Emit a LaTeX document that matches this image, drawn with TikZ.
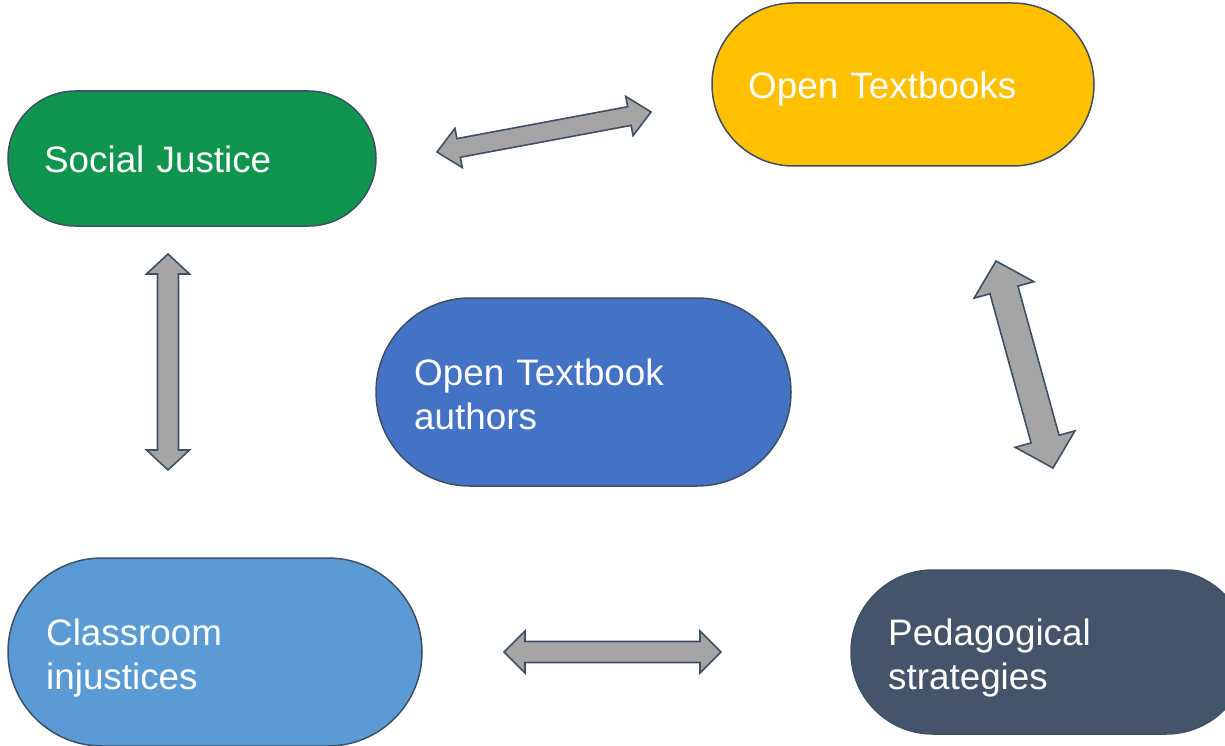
\documentclass[tikz,border=0pt]{standalone}
\usepackage{fontspec}
\setmainfont{Liberation Sans}
\usetikzlibrary{calc,shapes.misc}
\definecolor{sjgreen}{HTML}{10954F}
\definecolor{otyellow}{HTML}{FFC000}
\definecolor{authblue}{HTML}{4472C4}
\definecolor{lightblue}{HTML}{5B9BD5}
\definecolor{slate}{HTML}{44546A}
\definecolor{edge}{HTML}{3F4F64}
\definecolor{arrowgray}{HTML}{A5A5A5}
\tikzset{
  box/.style={rounded rectangle, draw=edge, line width=1.5pt, inner sep=0pt},
  boxtext/.style={anchor=base west, text=white, font=\fontsize{36.8}{44}\selectfont, inner sep=0pt, align=left, text width=430pt},
  arrowshape/.style={fill=arrowgray, draw=edge, line width=1.6pt, line join=miter}
}
\newcommand{\dblarrow}[5]{%
  \path ($(#1)!#5!(#2)$) coordinate (ha) ($(#2)!#5!(#1)$) coordinate (hb);
  \draw[arrowshape] (#1) -- ($(ha)!#4!90:(#2)$) -- ($(ha)!#3!90:(#2)$) -- ($(hb)!#3!-90:(#1)$) -- ($(hb)!#4!-90:(#1)$) -- (#2) -- ($(hb)!#4!90:(#1)$) -- ($(hb)!#3!90:(#1)$) -- ($(ha)!#3!-90:(#2)$) -- ($(ha)!#4!-90:(#2)$) -- cycle;}
\begin{document}
\begin{tikzpicture}[x=1pt,y=-1pt]
\useasboundingbox[fill=white] (0,0) rectangle (1225,746);
% boxes
\node[box, fill=sjgreen, minimum width=368pt, minimum height=135pt] (sj) at (192,158.5) {};
\node[box, fill=otyellow, minimum width=382pt, minimum height=163pt] (ot) at (903,84.5) {};
\node[box, fill=authblue, minimum width=415pt, minimum height=188pt] (au) at (583.5,392) {};
\node[box, fill=lightblue, minimum width=414pt, minimum height=188pt] (ci) at (215,652) {};
\node[box, fill=slate, minimum width=397pt, minimum height=164pt] (ps) at (1049.5,652) {};
% texts
\node[boxtext] (sjt) at (44,172) {Social Justice};
\node[boxtext] (ott) at (748,99) {Open Textbooks};
\node[boxtext] (aut) at (414,385) {Open Textbook\\authors};
\node[boxtext] (cit) at (46,645) {Classroom\\injustices};
\node[boxtext] (pst) at (888,645) {Pedagogical\\strategies};
% arrows
\coordinate (a1) at (437,152); \coordinate (a2) at (651,112);
\coordinate (b1) at (168,254); \coordinate (b2) at (168,470);
\coordinate (c1) at (996,261); \coordinate (c2) at (1053,468);
\coordinate (d1) at (504,652); \coordinate (d2) at (721,652);
\dblarrow{a1}{a2}{9.5pt}{20pt}{22pt}
\dblarrow{b1}{b2}{10.5pt}{21.5pt}{20pt}
\dblarrow{c1}{c2}{14.5pt}{31pt}{30pt}
\dblarrow{d1}{d2}{10.5pt}{21pt}{21pt}
\end{tikzpicture}
\end{document}
